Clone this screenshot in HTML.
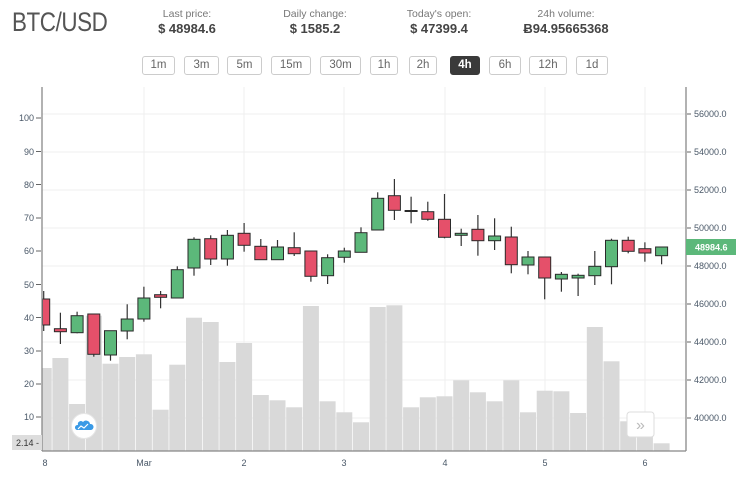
<!DOCTYPE html>
<html><head><meta charset="utf-8"><style>
body{margin:0;width:750px;height:481px;background:#fff;font-family:"Liberation Sans",sans-serif;overflow:hidden;position:relative}
.t{position:absolute;left:12px;top:7px;font-size:27px;color:#555;letter-spacing:-0.5px;transform:scaleX(0.83);transform-origin:0 0}
.s{position:absolute;top:8px;text-align:center;width:140px;margin-left:-70px}
.s .l{font-size:10.5px;color:#777}
.s .v{font-size:13px;font-weight:bold;color:#444;margin-top:1px}
.b{position:absolute;top:56px;height:17px;border:1px solid #ccc;border-radius:3px;font-size:11.5px;color:#666;text-align:center;line-height:17px;box-sizing:content-box}
.b.a{background:#3a3a3a;color:#fff;border-color:#3a3a3a;font-weight:bold}
svg{position:absolute;left:0;top:0}
</style></head><body>
<div class="t">BTC/USD</div>
<div class="s" style="left:187px"><div class="l">Last price:</div><div class="v">$ 48984.6</div></div>
<div class="s" style="left:315px"><div class="l">Daily change:</div><div class="v">$ 1585.2</div></div>
<div class="s" style="left:439px"><div class="l">Today's open:</div><div class="v">$ 47399.4</div></div>
<div class="s" style="left:566px"><div class="l">24h volume:</div><div class="v">Ƀ94.95665368</div></div>
<div class="b" style="left:142px;width:31px">1m</div>
<div class="b" style="left:184px;width:33px">3m</div>
<div class="b" style="left:227px;width:33px">5m</div>
<div class="b" style="left:271px;width:38px">15m</div>
<div class="b" style="left:320px;width:39px">30m</div>
<div class="b" style="left:370px;width:26px">1h</div>
<div class="b" style="left:409px;width:26px">2h</div>
<div class="b a" style="left:450px;width:28px">4h</div>
<div class="b" style="left:489px;width:30px">6h</div>
<div class="b" style="left:529px;width:36px">12h</div>
<div class="b" style="left:576px;width:30px">1d</div>
<svg id="c" width="750" height="481" font-family="Liberation Sans, sans-serif" font-size="9">
<g stroke="#efefef" stroke-width="1">
<line x1="42" x2="686" y1="114" y2="114"/><line x1="42" x2="686" y1="152" y2="152"/><line x1="42" x2="686" y1="190" y2="190"/><line x1="42" x2="686" y1="228" y2="228"/><line x1="42" x2="686" y1="266" y2="266"/><line x1="42" x2="686" y1="304" y2="304"/><line x1="42" x2="686" y1="342" y2="342"/><line x1="42" x2="686" y1="380" y2="380"/><line x1="42" x2="686" y1="418" y2="418"/>
<line x1="144" x2="144" y1="87" y2="451"/><line x1="244" x2="244" y1="87" y2="451"/><line x1="344" x2="344" y1="87" y2="451"/><line x1="445" x2="445" y1="87" y2="451"/><line x1="545" x2="545" y1="87" y2="451"/><line x1="645" x2="645" y1="87" y2="451"/>
</g>
<g id="vol" fill="#d9d9d9"></g>
<g id="cdl"></g>
<g stroke="#888" stroke-width="1.3" fill="none">
<line x1="42" x2="42" y1="87" y2="451"/><line x1="686" x2="686" y1="87" y2="451"/><line x1="42" x2="686" y1="451" y2="451"/>
</g>
<g fill="#4a5868" text-anchor="end">
<text x="34" y="121">100</text><text x="34" y="155">90</text><text x="34" y="188">80</text><text x="34" y="221">70</text><text x="34" y="254">60</text><text x="34" y="288">50</text><text x="34" y="321">40</text><text x="34" y="354">30</text><text x="34" y="387">20</text><text x="34" y="420">10</text>
</g>
<g stroke="#666"><line x1="36" x2="41" y1="118" y2="118"/><line x1="36" x2="41" y1="151.5" y2="151.5"/><line x1="36" x2="41" y1="184.5" y2="184.5"/><line x1="36" x2="41" y1="218" y2="218"/><line x1="36" x2="41" y1="251" y2="251"/><line x1="36" x2="41" y1="284.5" y2="284.5"/><line x1="36" x2="41" y1="317.5" y2="317.5"/><line x1="36" x2="41" y1="351" y2="351"/><line x1="36" x2="41" y1="384" y2="384"/><line x1="36" x2="41" y1="417" y2="417"/>
<line x1="687" x2="691" y1="114" y2="114"/><line x1="687" x2="691" y1="152" y2="152"/><line x1="687" x2="691" y1="190" y2="190"/><line x1="687" x2="691" y1="228" y2="228"/><line x1="687" x2="691" y1="266" y2="266"/><line x1="687" x2="691" y1="304" y2="304"/><line x1="687" x2="691" y1="342" y2="342"/><line x1="687" x2="691" y1="380" y2="380"/><line x1="687" x2="691" y1="418" y2="418"/></g>
<g fill="#4a5868">
<text x="694" y="117">56000.0</text><text x="694" y="155">54000.0</text><text x="694" y="193">52000.0</text><text x="694" y="231">50000.0</text><text x="694" y="269">48000.0</text><text x="694" y="307">46000.0</text><text x="694" y="345">44000.0</text><text x="694" y="383">42000.0</text><text x="694" y="421">40000.0</text>
</g>
<rect x="686" y="239" width="50" height="16" fill="#5cb87a"/>
<text x="695" y="250.5" fill="#fff" font-weight="bold">48984.6</text>
<rect x="12" y="435" width="30" height="15" fill="#ddd"/>
<text x="16" y="446" fill="#333">2.14 -</text>
<g fill="#4a5868" text-anchor="middle">
<text x="45" y="466">8</text><text x="144" y="466">Mar</text><text x="244" y="466">2</text><text x="344" y="466">3</text><text x="445" y="466">4</text><text x="545" y="466">5</text><text x="645" y="466">6</text>
</g>
<circle cx="84" cy="426" r="12.5" fill="#fff" stroke="#e6e6e6"/>
<path d="M77 430 h14 a3 3 0 0 0 -1 -6 a4 4 0 0 0 -7 -2 a3 3 0 0 0 -5 3 a2.5 2.5 0 0 0 -1 5z" fill="#3a9ae6"/>
<path d="M78 429 l3 -3 l3 2 l4 -4" stroke="#fff" stroke-width="1.2" fill="none"/>
<rect x="627" y="412" width="27" height="25" rx="3" fill="#fff" stroke="#ddd"/>
<text x="640.5" y="430" text-anchor="middle" font-size="16" fill="#bbb">»</text>
</svg>
<script>
var C=[[299,325,291,331,0],[328.7,331.7,312.7,344,0],[315.7,332.7,311.7,333.3,1],[314,354.3,314,356.7,0],[330.7,355,330.7,360.7,1],[319,331,304.3,339.3,1],[298,319,286.7,321.7,1],[294.7,297.3,291,308.3,0],[269.7,298,266.3,298,1],[239.3,268,237.3,275.7,1],[238.7,259,235.3,265,0],[235.3,259,230,265.7,1],[233.3,245.3,223,251.7,0],[246.3,259.7,239,259.7,0],[247,259.7,240,259.7,1],[247.7,253.7,232.3,256,0],[251,276.3,251,281.7,0],[257.7,275.7,254.3,284,1],[251,257.3,247.7,262.7,1],[232.7,252.3,227.3,252.3,1],[198.3,230,192.3,230,1],[195.7,210.3,179,220,0],[210.5,211.5,196.7,223.3,2],[211.7,219.3,201.7,220.7,0],[219.3,237.3,194,238.3,0],[233.3,235.3,228.7,246,1],[229.3,240.7,215,255.7,0],[236,240.7,218.3,250,1],[237,264.7,226.7,273.3,0],[257,265,251,274.3,1],[257,278,257,299.3,0],[274.3,279,272,291.7,1],[275.3,278,273.7,296,1],[266.3,275.7,251,285,1],[240.3,266.7,238.7,284.3,1],[240.3,251.3,236.7,253.3,0],[248.7,253,242.3,261.7,0],[247,255.7,247,264.3,1]];
var V=[368,358,404,315.7,363.7,357,354.3,409.7,364.7,317.7,322,362,343,395,400.3,407.3,306,401.3,412.3,422.3,307,305.3,407.3,397.3,396.3,380.3,392.3,401.3,380.3,412.3,390.7,391.3,413,327,361.3,421.3,420,443.3];
var ns="http://www.w3.org/2000/svg",vg=document.getElementById("vol"),cg=document.getElementById("cdl");
function el(g,t,a){var e=document.createElementNS(ns,t);for(var k in a)e.setAttribute(k,a[k]);g.appendChild(e);}
for(var i=0;i<38;i++){var x=43.7+16.7*i;var l=Math.max(42.5,x-8);el(vg,"rect",{x:l,y:V[i],width:x+8-l,height:450.5-V[i]});}
for(var i=0;i<38;i++){var x=43.7+16.7*i,c=C[i];el(cg,"line",{x1:x,x2:x,y1:c[2],y2:c[3],stroke:"#333","stroke-width":1.2});
var l=Math.max(42.5,x-6);el(cg,"rect",{x:l,y:c[0],width:x+6-l,height:Math.max(1,c[1]-c[0]),fill:c[4]==1?"#5cb87a":c[4]==0?"#e5506a":"#333",stroke:"#2a2a2a","stroke-width":1});}
</script>
</body></html>
